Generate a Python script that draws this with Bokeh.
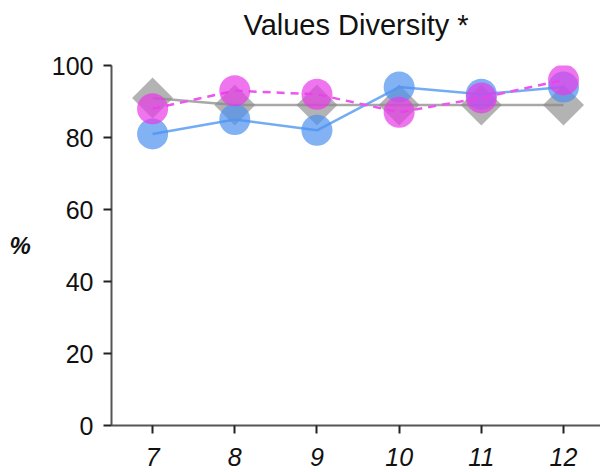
import numpy as np
from bokeh.plotting import figure
from bokeh.models import FixedTicker, Range1d, Title
from bokeh.embed import file_html
from bokeh.resources import INLINE

grades = [7, 8, 9, 10, 11, 12]
gray_vals = [91, 89, 89, 89, 89, 89]
blue_vals = [81, 85, 82, 94, 92, 94]
pink_vals = [88, 93, 92, 87, 91, 96]
y_ticks = [0, 20, 40, 60, 80, 100]
title_text = "Values Diversity *"

FONT = "Liberation Sans"

p = figure(width=600, height=470, output_backend="svg", toolbar_location=None,
           x_range=Range1d(6.5, 12.45), y_range=Range1d(0, 100),
           min_border_left=111, min_border_right=0, min_border_top=65,
           min_border_bottom=45, title=title_text)
p.title.align = "center"
p.title.text_font = FONT
p.title.text_font_size = "29px"
p.title.text_font_style = "normal"
p.title.text_color = "#111111"
p.title.offset = 0
p.title.standoff = 0
# invisible spacer between the title and the frame
p.add_layout(Title(text=" ", text_font_size="10px", standoff=12), "above")
p.outline_line_color = None
p.grid.visible = False

# gray series
p.line(grades, gray_vals, line_color="#a8a8a8", line_width=2.5)
p.scatter(grades, gray_vals, marker="square", angle=np.pi / 4, size=29,
          fill_color="#8a8a8a", fill_alpha=0.65, line_color=None)
# blue series
p.line(grades, blue_vals, line_color="#5c9df2", line_alpha=0.85, line_width=2.5)
p.scatter(grades, blue_vals, marker="circle", size=31,
          fill_color="#4d92f0", fill_alpha=0.7, line_color=None)
# pink series
p.line(grades, pink_vals, line_color="#ee55ee", line_width=2.5, line_dash="8 6")
p.scatter(grades, pink_vals, marker="circle", size=31,
          fill_color="#e83ae8", fill_alpha=0.7, line_color=None)

p.xaxis.ticker = FixedTicker(ticks=grades)
p.yaxis.ticker = FixedTicker(ticks=y_ticks)
for ax in (p.xaxis[0], p.yaxis[0]):
    ax.axis_line_color = "#555555"
    ax.axis_line_width = 2
    ax.major_tick_line_color = "#222222"
    ax.major_tick_line_width = 2
    ax.major_tick_out = 8
    ax.major_tick_in = 0
    ax.minor_tick_line_color = None
    ax.major_label_text_font = FONT
    ax.major_label_text_font_size = "25px"
    ax.major_label_text_color = "#111111"
    ax.major_label_standoff = 10
p.xaxis.major_label_text_font_style = "italic"
p.xaxis.major_label_standoff = 14
p.yaxis.axis_label = "%"
p.yaxis.axis_label_orientation = "horizontal"
p.yaxis.axis_label_text_font = FONT
p.yaxis.axis_label_text_font_size = "24px"
p.yaxis.axis_label_text_font_style = "bold italic"
p.yaxis.axis_label_text_color = "#111111"
p.yaxis.axis_label_standoff = 18

open("out.html", "w").write(file_html(p, INLINE))
